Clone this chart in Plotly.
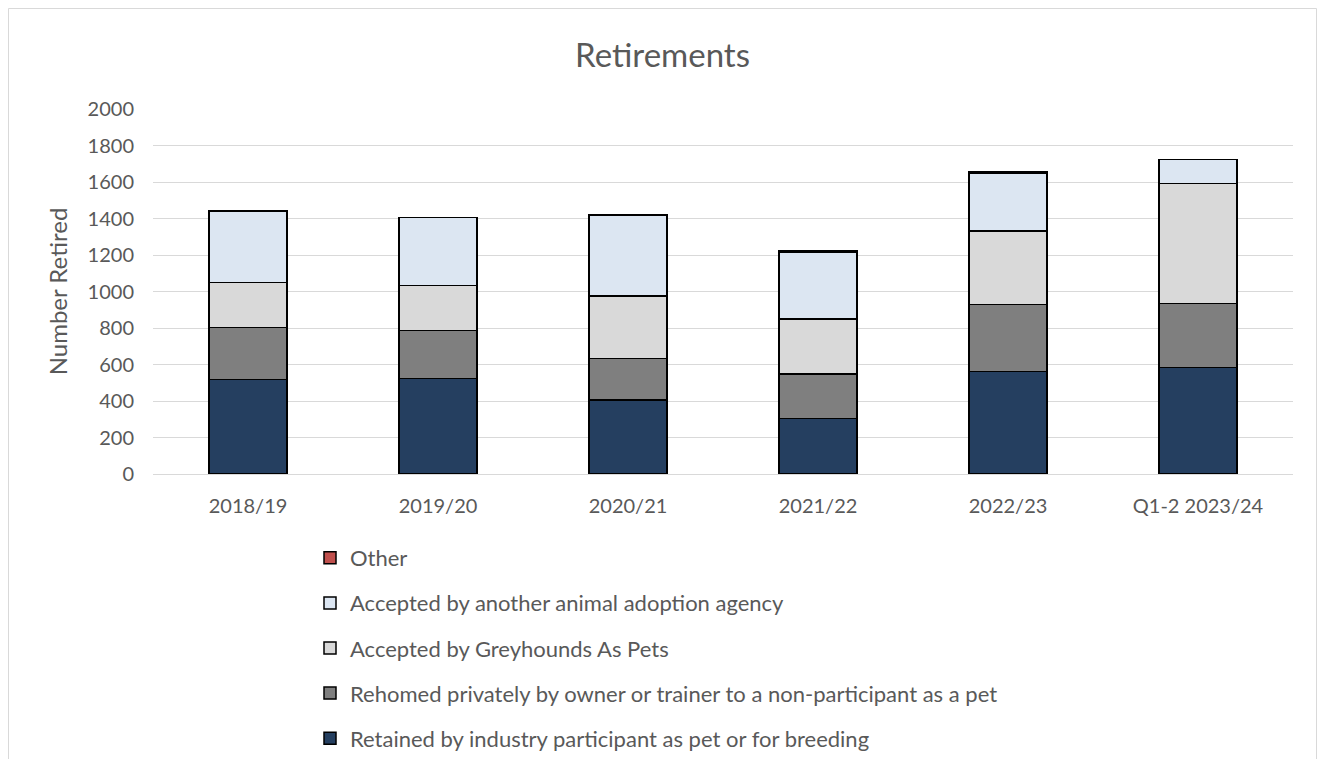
import plotly.graph_objects as go

categories = ["2018/19", "2019/20", "2020/21", "2021/22", "2022/23", "Q1-2 2023/24"]
retained = [519, 524, 405, 303, 561, 583]
rehomed = [283, 263, 229, 245, 367, 352]
gap = [248, 245, 341, 301, 404, 657]
other_agency = [391, 373, 444, 364, 316, 132]
other = [0, 0, 0, 10, 7, 0]

series = [
    ("Retained by industry participant as pet or for breeding", retained, "#253F60"),
    ("Rehomed privately by owner or trainer to a non-participant as a pet", rehomed, "#7F7F7F"),
    ("Accepted by Greyhounds As Pets", gap, "#D9D9D9"),
    ("Accepted by another animal adoption agency", other_agency, "#DCE6F2"),
    ("Other", other, "#C0504D"),
]

W, H = 1309, 751
L, R, T, B = 145, 24, 101, 285
PW, PH = W - L - R, H - T - B

fig = go.Figure()
n = len(series)
for i, (name, vals, color) in enumerate(series):
    fig.add_trace(go.Bar(
        x=categories, y=vals, name=name, legendgroup=str(i), legendrank=n - i,
        marker=dict(color=color, line=dict(color="black", width=1.5)),
        width=0.41,
    ))

fig.update_layout(
    barmode="stack",
    width=W, height=H,
    plot_bgcolor="white", paper_bgcolor="white",
    margin=dict(l=L, r=R, t=T, b=B, autoexpand=False),
    font=dict(family="Lato, Carlito, sans-serif", color="#595959", size=20),
    title=dict(text="Retirements", x=0.5, xanchor="center", y=1 - 47 / H, yanchor="middle",
               font=dict(size=33, color="#595959")),
    yaxis=dict(range=[0, 2000], dtick=200, showgrid=True, gridcolor="#D9D9D9", gridwidth=1,
               zeroline=False, showline=False, ticks="", tickfont=dict(size=20),
               ticklabelstandoff=18,
               title=dict(text="Number Retired", font=dict(size=24), standoff=13)),
    xaxis=dict(showline=True, linecolor="#D9D9D9", linewidth=1, ticks="", tickfont=dict(size=20),
               ticklabelstandoff=14),
    showlegend=True,
    legend=dict(traceorder="grouped", tracegroupgap=13.5, x=(302 - L) / PW, xanchor="left",
                y=-(529 - (T + PH)) / PH, yanchor="top", font=dict(size=22, color="#595959"),
                itemwidth=30, bgcolor="rgba(0,0,0,0)"),
    shapes=[dict(type="rect", xref="paper", yref="paper",
                 x0=(0.5 - L) / PW, x1=(W - 0.5 - L) / PW,
                 y0=-(H + 40 - T - PH) / PH, y1=1 + (T - 0.5) / PH,
                 line=dict(color="#D9D9D9", width=1), fillcolor="rgba(0,0,0,0)",
                 layer="below")],
)

fig.write_html("out.html")
